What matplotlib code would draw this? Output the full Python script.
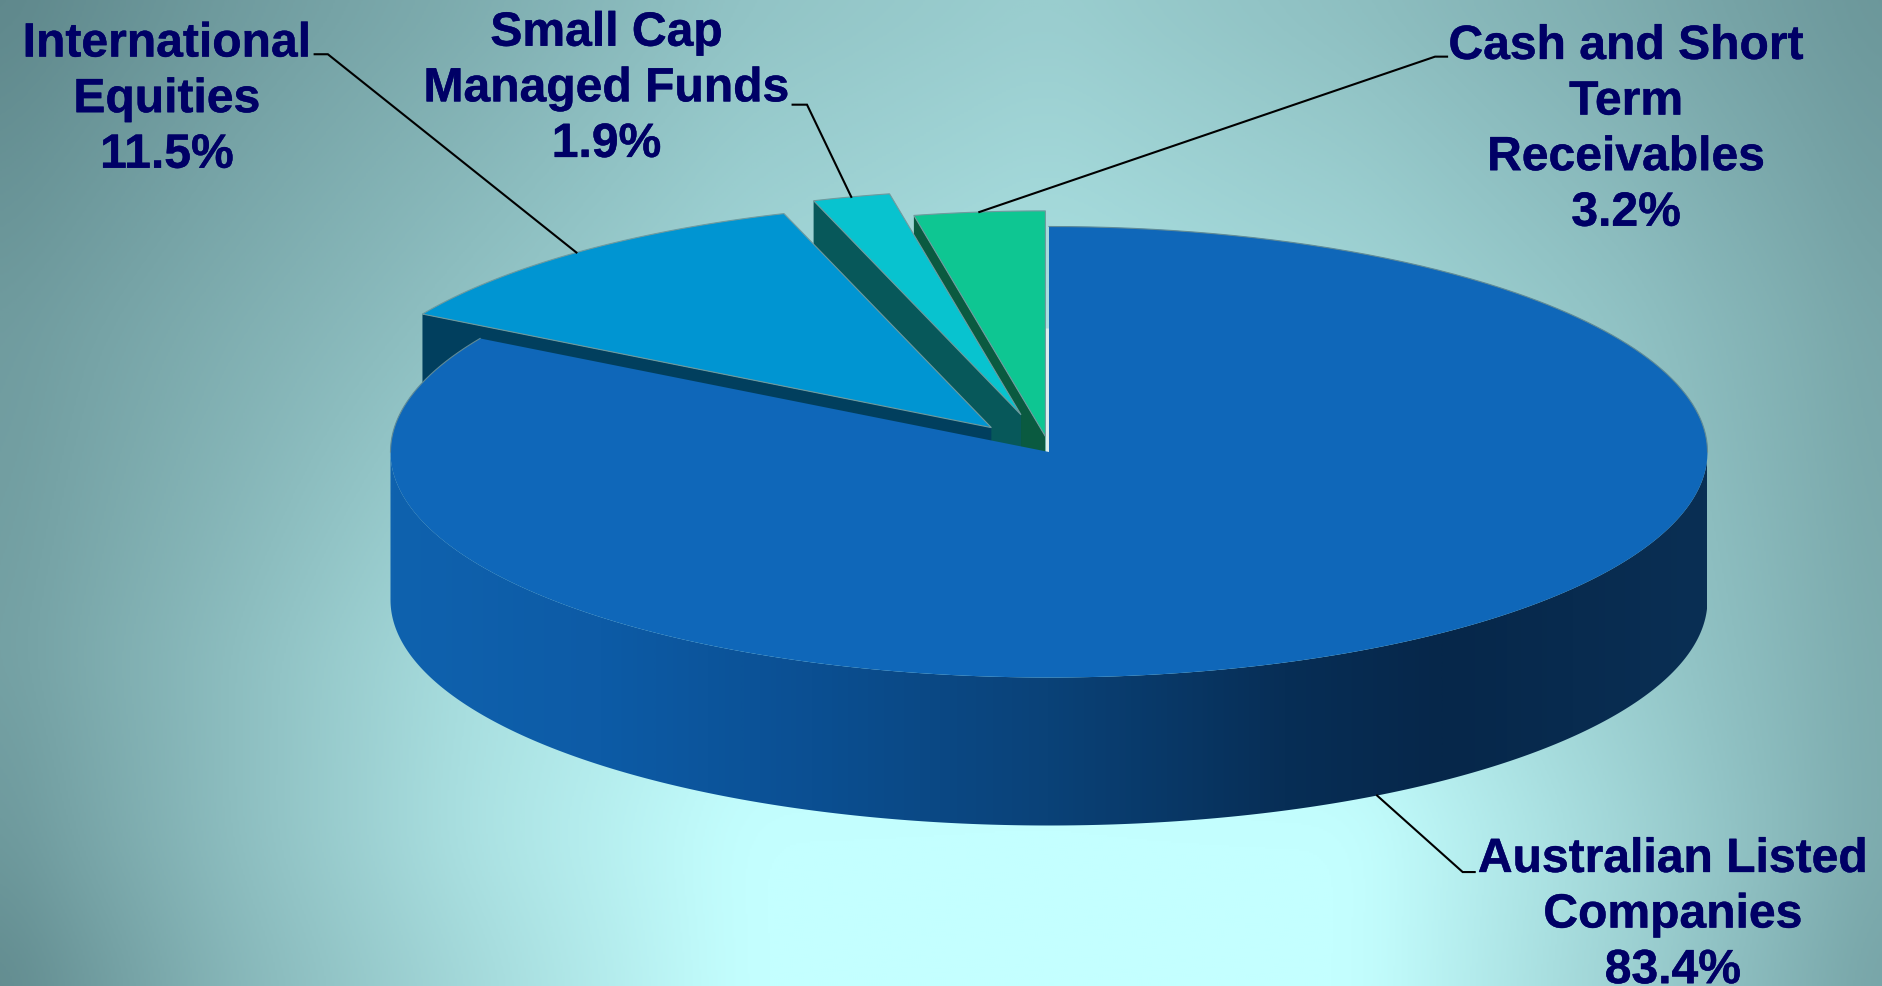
import numpy as np
import matplotlib
matplotlib.use("Agg")
import matplotlib.pyplot as plt
import matplotlib.patheffects as pe
from matplotlib.patches import Polygon
from matplotlib.colors import LinearSegmentedColormap

W, H = 1883, 987
S = W / 1568

categories = ["Australian Listed\nCompanies", "International\nEquities",
              "Small Cap\nManaged Funds", "Cash and Short\nTerm\nReceivables"]
values = [83.4, 11.5, 1.9, 3.2]
top_colors = ["#0F67B9", "#0095D2", "#08C3CF", "#0EC692"]
wall_colors = [None, "#013F5E", "#07585A", "#0A5A40"]
explode_px = [(0, 0), (-48, -20.3), (-23.3, -31), (-3, -13)]
label_centers = [(1393, 716.5), (139, 37.5), (505, 28.5), (1354, 39.5)]
elbows = [[(1218, 727), (1228, 727)], [(273, 46), (262, 46)],
          [(672, 88), (660, 88)], [(1195, 48), (1205, 48)]]

# background brightness at a coarse grid of pixels
bg_x = [0, 235, 470, 746, 1050, 1360, 1620, 1883]
bg_y = [0, 330, 660, 840, 987]
bg_g = [[135, 155, 172, 195, 205, 190, 172, 150],
        [155, 175, 195, 215, 225, 215, 195, 165],
        [160, 190, 222, 245, 250, 240, 205, 170],
        [152, 190, 225, 255, 255, 255, 215, 170],
        [138, 182, 216, 255, 255, 255, 210, 163]]

CX, CY, RX, RY, DEPTH = 1049.0, 453.0, 658.5, 225.5, 148.0
LINE = 46.3 * S

plt.rcParams["font.family"] = ["Liberation Sans", "DejaVu Sans"]
fig = plt.figure(figsize=(W / 100, H / 100), dpi=100)
ax = fig.add_axes([0, 0, 1, 1])
ax.axis("off")

# background: the coarse grid, upsampled and softened
gx = np.arange(0, W + 2, 2)
gy = np.arange(0, H + 2, 2)
cols = np.array([np.interp(gx, bg_x, row) for row in bg_g])
field = np.array([np.interp(gy, bg_y, cols[:, j]) for j in range(cols.shape[1])]).T


def soften(a, n, axis):
    k = np.ones(n) / n
    pad = [(0, 0), (0, 0)]
    pad[axis] = (n, n)
    b = np.pad(a, pad, mode="edge")
    b = np.apply_along_axis(lambda v: np.convolve(v, k, mode="same"), axis, b)
    return b[n:-n, :] if axis == 0 else b[:, n:-n]


for _ in range(2):
    field = soften(field, 35, 0)
    field = soften(field, 35, 1)

bg_cmap = LinearSegmentedColormap.from_list("bg", ["#5A8286", "#C4FFFF"])
ax.imshow(field, extent=(0, W, H, 0), cmap=bg_cmap, vmin=130, vmax=255, aspect="auto",
          zorder=0, interpolation="bilinear")


def pt(th, dx=0.0, dy=0.0):
    t = np.radians(th)
    return CX + RX * np.sin(t) + dx, CY - RY * np.cos(t) + dy


def wedge_xy(a, b, dx=0.0, dy=0.0):
    th = np.linspace(a, b, 240)
    xs, ys = pt(th, dx, dy)
    return np.column_stack([np.r_[CX + dx, xs], np.r_[CY + dy, ys]])


edges = np.cumsum([0] + values) * 3.6
mids = (edges[:-1] + edges[1:]) / 2

# exploded slices, painted from the right-hand one to the left-hand one
z = 2
for i in [3, 2, 1]:
    a, b = edges[i], edges[i + 1]
    dx, dy = explode_px[i][0] * S, explode_px[i][1] * S
    ox, oy = pt(a, dx, dy)
    face = [(ox, oy), (CX + dx, CY + dy), (CX + dx, CY + dy + DEPTH), (ox, oy + DEPTH)]
    ax.add_patch(Polygon(face, closed=True, fc=wall_colors[i], ec="none", zorder=z))
    ax.add_patch(Polygon(wedge_xy(a, b, dx, dy), closed=True, fc=top_colors[i],
                         ec="#6F9A9E", lw=0.8, zorder=z + 0.5))
    z += 1

# main slice side wall with a horizontal gradient
th = np.linspace(90, 270, 300)
wall_top = np.column_stack(pt(th))
wall_bot = np.column_stack(pt(th[::-1], 0, DEPTH))
wall = Polygon(np.vstack([wall_top, wall_bot]), closed=True, fc="none", ec="none", zorder=6)
ax.add_patch(wall)
wall_cmap = LinearSegmentedColormap.from_list(
    "wall", [(0, "#0F62AE"), (0.16, "#0D5BA6"), (0.32, "#0B4F92"), (0.5, "#0A4278"),
             (0.68, "#072E56"), (0.8, "#06274A"), (1, "#0A2F54")])
grad = np.linspace(0, 1, 512)[None, :]
im = ax.imshow(grad, extent=(CX - RX, CX + RX, CY + RY + DEPTH + 5, CY - 5), cmap=wall_cmap,
               aspect="auto", zorder=6)
im.set_clip_path(wall)

# main slice top, thin grey rim on its far edge, pale sliver beside the notch
ax.add_patch(Polygon(wedge_xy(edges[0], edges[1]), closed=True, fc=top_colors[0],
                     ec="none", zorder=7))
for a, b in [(0, 90), (270, edges[1])]:
    xs, ys = pt(np.linspace(a, b, 200))
    ax.plot(xs, ys, color="#5F8A96", lw=0.8, zorder=7.5)
ax.plot([CX - 2, CX - 2], [CY, CY - 0.55 * RY], color="#DCEEEE", lw=2.2, zorder=6.5,
        solid_capstyle="butt")

# labels and leader lines
for i, cat in enumerate(categories):
    lines = cat.split("\n") + [f"{values[i]:.1f}%"]
    lx, ly = label_centers[i]
    for k, s in enumerate(lines):
        ax.text(lx * S, ly * S + k * LINE, s, ha="center", va="center", color="#000066",
                fontsize=34.6, fontweight="bold", zorder=10, clip_on=True,
                path_effects=[pe.withStroke(linewidth=0.3, foreground="#000066")])
    dx, dy = explode_px[i][0] * S, explode_px[i][1] * S
    lead_x, lead_y = pt(mids[i], dx, dy + (DEPTH if i == 0 else 0))
    xs = [lead_x] + [p[0] * S for p in elbows[i]]
    ys = [lead_y] + [p[1] * S for p in elbows[i]]
    ax.plot(xs, ys, color="black", lw=1.5, zorder=9, solid_joinstyle="miter")

ax.set_xlim(0, W)
ax.set_ylim(H, 0)
fig.savefig("out.png", dpi=100)
